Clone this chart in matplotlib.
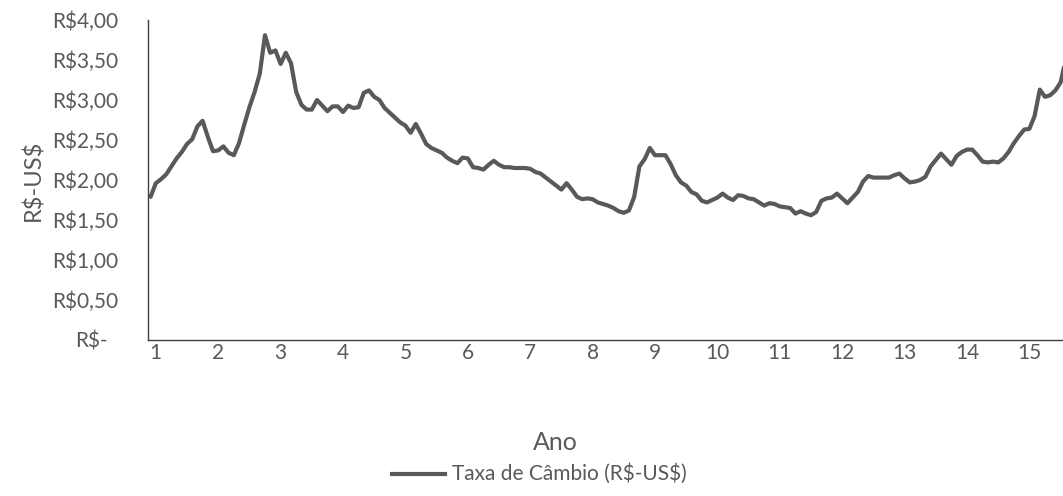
import numpy as np
import matplotlib
matplotlib.use("Agg")
import matplotlib.pyplot as plt
from matplotlib.transforms import ScaledTranslation

# Monthly BRL/USD exchange rate (R$ per US$)
taxa_cambio = [
    1.79, 1.96, 2.01, 2.07, 2.17, 2.27, 2.35, 2.45, 2.51, 2.67, 2.74, 2.54,
    2.36, 2.37, 2.42, 2.34, 2.31, 2.46, 2.69, 2.91, 3.10, 3.33, 3.81, 3.59,
    3.62, 3.45, 3.59, 3.46, 3.10, 2.94, 2.88, 2.88, 3.00, 2.93, 2.86, 2.92,
    2.92, 2.85, 2.93, 2.90, 2.91, 3.09, 3.12, 3.04, 3.00, 2.90, 2.84, 2.78,
    2.72, 2.68, 2.59, 2.70, 2.58, 2.45, 2.40, 2.37, 2.34, 2.28, 2.24, 2.21,
    2.28, 2.27, 2.16, 2.15, 2.13, 2.19, 2.24, 2.19, 2.16, 2.16, 2.15, 2.15,
    2.15, 2.14, 2.10, 2.08, 2.03, 1.98, 1.93, 1.88, 1.96, 1.88, 1.79, 1.76,
    1.77, 1.76, 1.72, 1.70, 1.68, 1.65, 1.61, 1.59, 1.62, 1.79, 2.17, 2.26,
    2.40, 2.31, 2.31, 2.31, 2.20, 2.06, 1.97, 1.93, 1.85, 1.82, 1.74, 1.72,
    1.75, 1.78, 1.83, 1.78, 1.75, 1.81, 1.80, 1.77, 1.76, 1.72, 1.68, 1.71,
    1.70, 1.67, 1.66, 1.65, 1.58, 1.61, 1.58, 1.56, 1.60, 1.74, 1.77, 1.78,
    1.83, 1.77, 1.71, 1.78, 1.85, 1.98, 2.05, 2.03, 2.03, 2.03, 2.03, 2.06,
    2.08, 2.02, 1.97, 1.98, 2.00, 2.04, 2.17, 2.25, 2.33, 2.26, 2.19, 2.30,
    2.35, 2.38, 2.38, 2.31, 2.23, 2.22, 2.23, 2.22, 2.27, 2.35, 2.46, 2.55,
    2.63, 2.64, 2.80, 3.13, 3.04, 3.06, 3.12, 3.22, 3.51,
]
ano_labels = ["1", "2", "3", "4", "5", "6", "7", "8", "9", "10",
              "11", "12", "13", "14", "15"]
y_ticks = [0.0, 0.5, 1.0, 1.5, 2.0, 2.5, 3.0, 3.5, 4.0]

TEXT = "#595959"
LINE = "#595959"

plt.rcParams["font.family"] = ["Lato", "DejaVu Sans"]
plt.rcParams["text.parse_math"] = False

W, H = 1063, 496
fig = plt.figure(figsize=(W / 100, H / 100), dpi=100)
left, right, top, bottom = 148, 1063, 20, 340
ax = fig.add_axes([left / W, 1 - bottom / H, (right - left) / W, (bottom - top) / H])

x = np.arange(len(taxa_cambio))
ax.plot(x, taxa_cambio, color=LINE, lw=3.0, solid_joinstyle="round",
        solid_capstyle="round")

step = 5.2  # pixels per month
ax.set_xlim(-0.5, -0.5 + (right - left) / step)
ax.set_ylim(0, 4.0)

ax.set_xticks(np.arange(1, len(taxa_cambio), 12)[:len(ano_labels)])
ax.set_xticklabels(ano_labels)
ax.set_yticks(y_ticks)
ax.set_yticklabels(["R$-" if v == 0 else "R${:.2f}".format(v).replace(".", ",")
                    for v in y_ticks])

ax.tick_params(axis="both", length=0, labelsize=15, colors=TEXT)
ax.tick_params(axis="y", pad=21.6)
ax.tick_params(axis="x", pad=2.5)

# zero label sits a bit further left (accounting format)
zero_lbl = ax.get_yticklabels()[0]
zero_lbl.set_transform(zero_lbl.get_transform()
                       + ScaledTranslation(-10 / 100, 0, fig.dpi_scale_trans))

for side in ("top", "right"):
    ax.spines[side].set_visible(False)
for side in ("left", "bottom"):
    ax.spines[side].set_color("#3f3f3f")
    ax.spines[side].set_linewidth(1.0)

ax.set_ylabel("R$-US$", fontsize=17, color=TEXT)
ax.yaxis.label.set_va("center")
ax.yaxis.set_label_coords((33 - left) / (right - left), 0.5)

fig.text(555 / W, 1 - 443 / H, "Ano", ha="center", va="center",
         fontsize=18, color=TEXT)

# legend entry below the axis title
ly = 1 - 474 / H
fig.add_artist(plt.Line2D([392 / W, 445 / W], [ly, ly], color=LINE, lw=3.0,
                          transform=fig.transFigure))
fig.text(452 / W, ly, "Taxa de Câmbio (R$-US$)", ha="left", va="center",
         fontsize=15, color=TEXT)

fig.savefig("out.png", dpi=100)
